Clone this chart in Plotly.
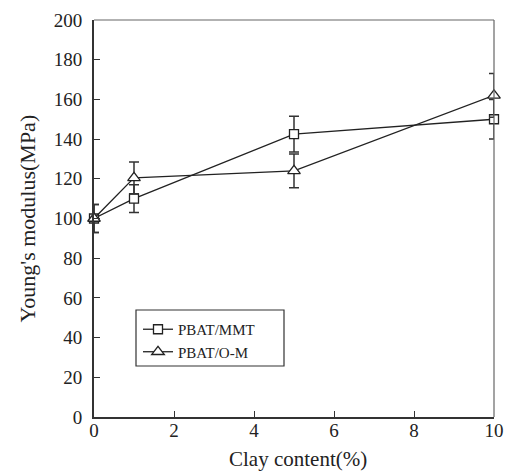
import plotly.graph_objects as go

clay = [0, 1, 5, 10]
mmt_modulus = [100, 110, 142.5, 150]
mmt_err = [7, 7, 9, 10]
om_modulus = [100, 120.5, 124, 162]
om_err = [7, 8, 8.5, 11]

serif = "Liberation Serif, Times New Roman, serif"
ink = "#222"
font = dict(family=serif, color=ink, size=19)

fig = go.Figure()
fig.add_trace(go.Scatter(
    x=clay, y=mmt_modulus, name="PBAT/MMT", mode="lines+markers", cliponaxis=False,
    line=dict(color=ink, width=1.3),
    marker=dict(symbol="square", size=9, color="white", line=dict(color=ink, width=1.3)),
    error_y=dict(type="data", array=mmt_err, color="#333", thickness=1.5, width=5),
))
fig.add_trace(go.Scatter(
    x=clay, y=om_modulus, name="PBAT/O-M", mode="lines+markers", cliponaxis=False,
    line=dict(color=ink, width=1.3),
    marker=dict(symbol="triangle-up", size=11, color="white", line=dict(color=ink, width=1.3)),
    error_y=dict(type="data", array=om_err, color="#333", thickness=1.5, width=5),
))

axis_common = dict(
    showgrid=False, zeroline=False, ticks="inside", ticklen=6, tickwidth=1.2,
    tickcolor="#333", showline=True, linecolor="#333", linewidth=2,
    mirror=False, tickfont=font, automargin=False,
)
fig.update_xaxes(range=[0, 10], dtick=2, ticklabelstandoff=-5, **axis_common)
fig.update_yaxes(range=[0, 200], dtick=20, ticklabelstandoff=6, **axis_common)

# thin frame on the top and right edges
fig.add_shape(type="line", xref="paper", yref="paper", x0=0, x1=1, y0=1, y1=1,
              line=dict(color="#666", width=1.2))
fig.add_shape(type="line", xref="paper", yref="paper", x0=1, x1=1, y0=0, y1=1,
              line=dict(color="#666", width=1.2))

# legend frame
fig.add_shape(type="rect", xref="paper", yref="paper",
              x0=0.105, x1=0.475, y0=0.1285, y1=0.2695,
              line=dict(color="#333", width=1.2), fillcolor="white", layer="below")

# axis titles
fig.add_annotation(text="Clay content(%)", xref="paper", yref="paper",
                   x=0.51, y=-0.106, xanchor="center", yanchor="middle",
                   showarrow=False, font=dict(family=serif, color=ink, size=21))
fig.add_annotation(text="Young's modulus(MPa)", xref="paper", yref="paper",
                   x=-0.1675, y=0.5, xanchor="center", yanchor="middle", textangle=-90,
                   showarrow=False, font=dict(family=serif, color=ink, size=22))

fig.update_layout(
    width=507, height=471,
    margin=dict(l=94, r=13, t=20, b=54),
    plot_bgcolor="white", paper_bgcolor="white",
    font=font,
    showlegend=True,
    legend=dict(
        x=0.11, y=0.262, xanchor="left", yanchor="top",
        borderwidth=0, bgcolor="rgba(0,0,0,0)",
        font=dict(family=serif, color=ink, size=15), tracegroupgap=2,
    ),
)

fig.write_html("out.html")
